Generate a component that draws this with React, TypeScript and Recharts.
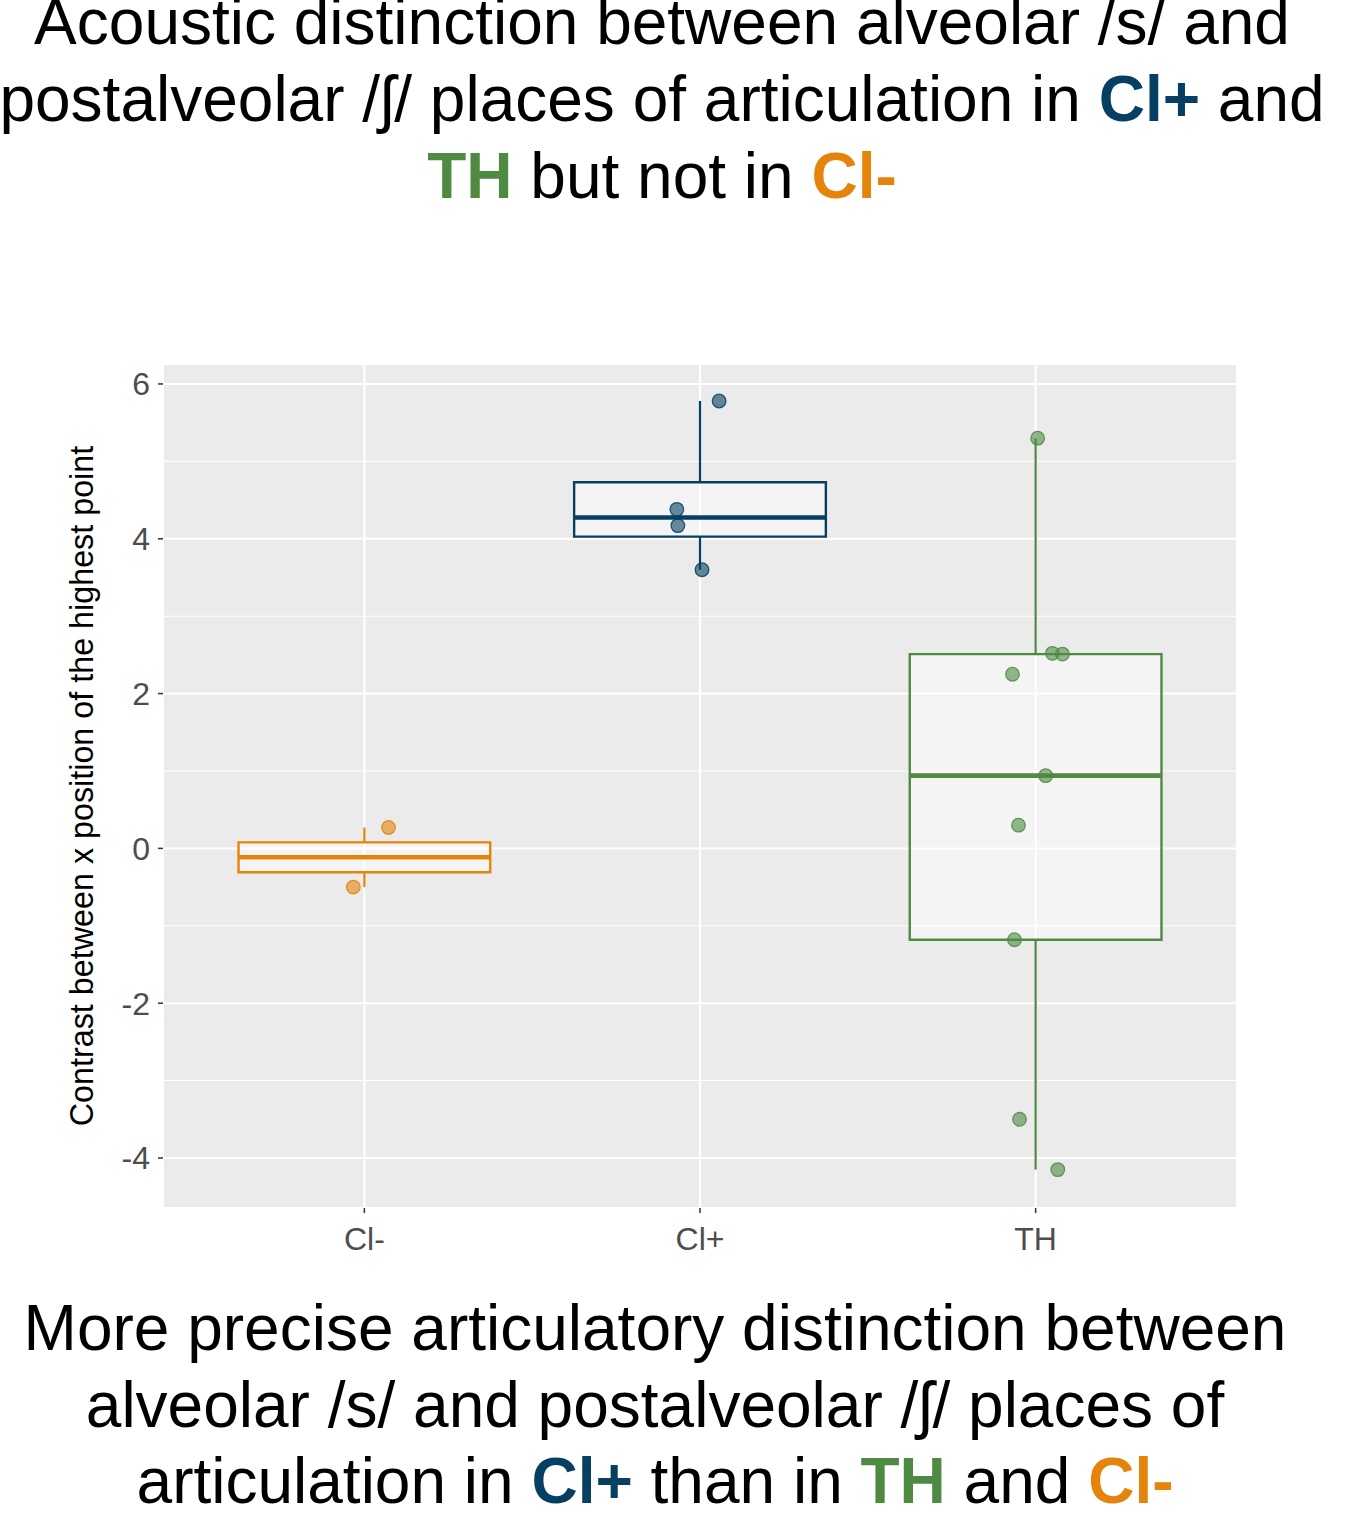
import React from 'react';
import {
  ComposedChart,
  Scatter,
  XAxis,
  YAxis,
  CartesianGrid,
  ReferenceArea,
  ReferenceLine,
} from 'recharts';

// groups, in axis order
const categories = ['Cl-', 'Cl+', 'TH'];
const groupColors = ['#E5830A', '#063F62', '#4F8A43'];

// contrast values per speaker
const clMinusValues = [0.27, -0.5];
const clPlusValues = [5.78, 4.38, 4.17, 3.6];
const thValues = [5.3, 2.52, 2.51, 2.25, 0.94, 0.3, -1.18, -3.5, -4.15];

// horizontal jitter of each point (category units)
const clMinusJitter = [0.072, -0.033];
const clPlusJitter = [0.057, -0.069, -0.066, 0.006];
const thJitter = [0.006, 0.05, 0.08, -0.069, 0.03, -0.051, -0.063, -0.048, 0.066];

const yTicks = [-4, -2, 0, 2, 4, 6];
const yMinorTicks = [-3, -1, 1, 3, 5];
const xTicks = [1, 2, 3];

const groupValues = [clMinusValues, clPlusValues, thValues];
const groupJitter = [clMinusJitter, clPlusJitter, thJitter];

const FONT = '"Liberation Sans", Arial, Helvetica, sans-serif';
const BOX_HALF = 0.375;
const X_DOMAIN = [0.4, 3.6];
const MINOR_HALF = 0.0065; // half thickness of a minor grid line, in y units

// R's default quantile (type 7)
function quantile(sorted: number[], p: number) {
  const h = (sorted.length - 1) * p;
  const lo = Math.floor(h);
  const hi = Math.ceil(h);
  return sorted[lo] + (h - lo) * (sorted[hi] - sorted[lo]);
}

function boxStats(values: number[]) {
  const s = [...values].sort((a, b) => a - b);
  return {
    min: s[0],
    q1: quantile(s, 0.25),
    med: quantile(s, 0.5),
    q3: quantile(s, 0.75),
    max: s[s.length - 1],
  };
}

const stats = groupValues.map(boxStats);

const pointData = groupValues.map((vals, g) =>
  vals.map((y, i) => ({ x: g + 1 + groupJitter[g][i], y }))
);

const dot = (color: string) => (props: any) => (
  <circle
    cx={props.cx}
    cy={props.cy}
    r={6.8}
    fill={color}
    fillOpacity={0.6}
    stroke={color}
    strokeOpacity={0.85}
    strokeWidth={1.3}
  />
);

export default function App() {
  return (
    <div style={{ position: 'absolute', left: 0, top: 0, width: 1352, height: 1527, background: '#fff' }}>
      <ComposedChart
        width={1352}
        height={1300}
        margin={{ top: 364, right: 115, bottom: 40, left: 0 }}
      >
        <CartesianGrid fill="#EBEBEB" stroke="#FFFFFF" strokeWidth={2} />
        {/* minor grid lines, drawn as thin areas so the boxes sit on top */}
        {yMinorTicks.map((v) => (
          <ReferenceArea
            key={'m' + v}
            x1={X_DOMAIN[0]}
            x2={X_DOMAIN[1]}
            y1={v - MINOR_HALF}
            y2={v + MINOR_HALF}
            fill="#FFFFFF"
            fillOpacity={1}
            stroke="none"
          />
        ))}
        <XAxis
          type="number"
          dataKey="x"
          domain={X_DOMAIN}
          ticks={xTicks}
          allowDataOverflow
          tickFormatter={(v: number) => categories[v - 1]}
          axisLine={false}
          tickSize={5}
          tickMargin={14}
          tickLine={{ stroke: '#333333', strokeWidth: 1.5 }}
          tick={{ fill: '#4D4D4D', fontSize: 32, fontFamily: FONT }}
          height={52}
        />
        <YAxis
          type="number"
          dataKey="y"
          domain={[-4.646, 6.258]}
          ticks={yTicks}
          allowDataOverflow
          axisLine={false}
          tickSize={5}
          tickMargin={8}
          tickLine={{ stroke: '#333333', strokeWidth: 1.5 }}
          tick={{ fill: '#4D4D4D', fontSize: 32, fontFamily: FONT }}
          width={163}
        />
        {stats.map((s, g) => (
          <ReferenceLine
            key={'wu' + g}
            segment={[{ x: g + 1, y: s.q3 }, { x: g + 1, y: s.max }]}
            stroke={groupColors[g]}
            strokeWidth={2.2}
          />
        ))}
        {stats.map((s, g) => (
          <ReferenceLine
            key={'wl' + g}
            segment={[{ x: g + 1, y: s.q1 }, { x: g + 1, y: s.min }]}
            stroke={groupColors[g]}
            strokeWidth={2.2}
          />
        ))}
        {stats.map((s, g) => (
          <ReferenceArea
            key={'box' + g}
            x1={g + 1 - BOX_HALF}
            x2={g + 1 + BOX_HALF}
            y1={s.q1}
            y2={s.q3}
            fill="#FFFFFF"
            fillOpacity={0.45}
            stroke={groupColors[g]}
            strokeWidth={2.4}
          />
        ))}
        {stats.map((s, g) => (
          <ReferenceLine
            key={'med' + g}
            segment={[{ x: g + 1 - BOX_HALF, y: s.med }, { x: g + 1 + BOX_HALF, y: s.med }]}
            stroke={groupColors[g]}
            strokeWidth={4.6}
          />
        ))}
        {pointData.map((d, g) => (
          <Scatter
            key={'pts' + g}
            data={d}
            dataKey="y"
            shape={dot(groupColors[g])}
            isAnimationActive={false}
          />
        ))}
      </ComposedChart>

      <svg
        width={1352}
        height={1527}
        style={{ position: 'absolute', left: 0, top: 0, pointerEvents: 'none' }}
      >
        <g fontFamily={FONT} fontSize={64} fill="#000" textAnchor="middle" style={{ whiteSpace: 'pre' }}>
          <text x={662} y={44}>Acoustic distinction between alveolar /s/ and</text>
          <text x={662} y={121}>
            postalveolar /ʃ/ places of articulation in{' '}
            <tspan fill={groupColors[1]} fontWeight="bold">Cl+</tspan> and
          </text>
          <text x={662} y={198}>
            <tspan fill={groupColors[2]} fontWeight="bold">TH</tspan> but not in{' '}
            <tspan fill={groupColors[0]} fontWeight="bold">Cl-</tspan>
          </text>

          <text x={655} y={1350}>More precise articulatory distinction between</text>
          <text x={655} y={1427}>alveolar /s/ and postalveolar /ʃ/ places of</text>
          <text x={655} y={1503}>
            articulation in <tspan fill={groupColors[1]} fontWeight="bold">Cl+</tspan> than in{' '}
            <tspan fill={groupColors[2]} fontWeight="bold">TH</tspan> and{' '}
            <tspan fill={groupColors[0]} fontWeight="bold">Cl-</tspan>
          </text>
        </g>
        <text
          x={93}
          y={786}
          transform="rotate(-90 93 786)"
          fontFamily={FONT}
          fontSize={32.3}
          fill="#000"
          textAnchor="middle"
        >
          Contrast between x position of the highest point
        </text>
      </svg>
    </div>
  );
}
